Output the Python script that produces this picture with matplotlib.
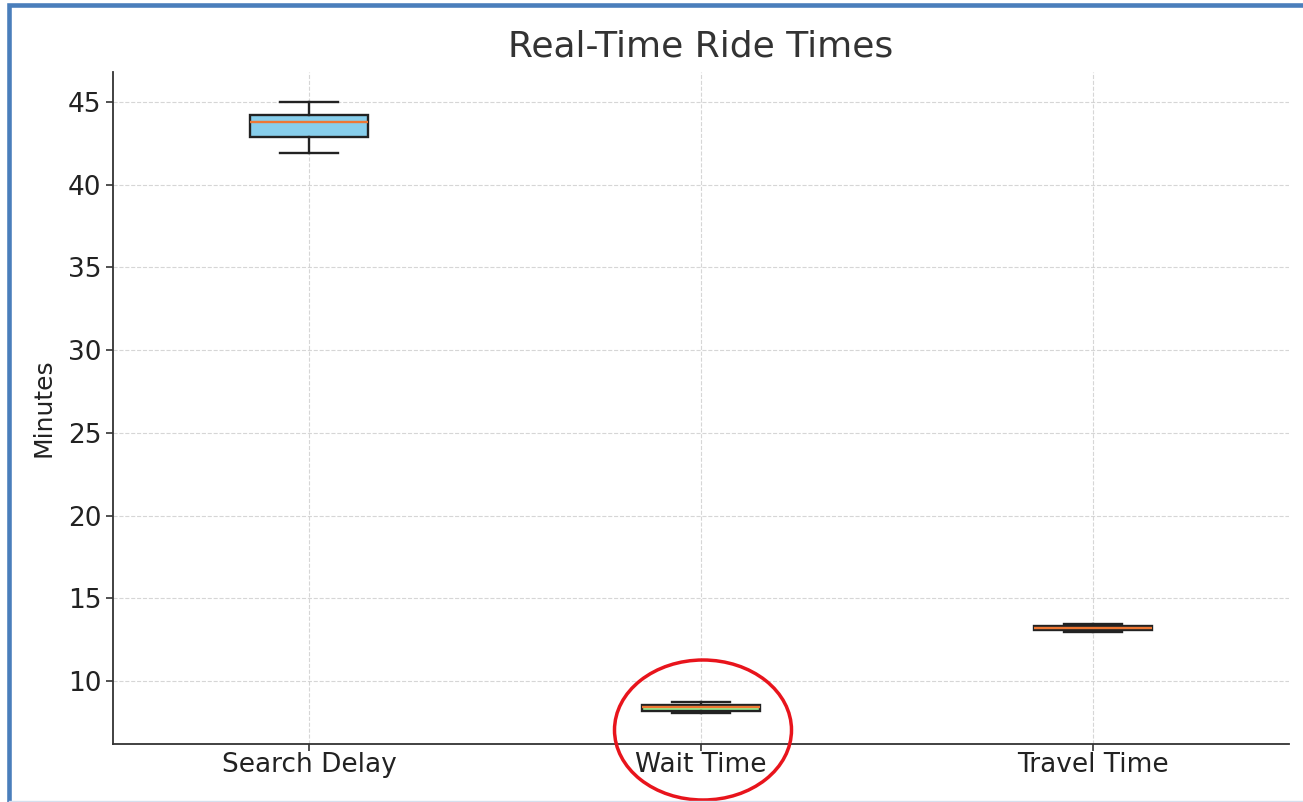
import matplotlib.pyplot as plt
from matplotlib.patches import Ellipse, Rectangle

# box statistics (minutes)
labels = ['Search Delay', 'Wait Time', 'Travel Time']
whis_low = [41.9, 8.05, 12.97]
q1 = [42.9, 8.2, 13.08]
median = [43.8, 8.43, 13.2]
q3 = [44.2, 8.55, 13.32]
whis_high = [45.0, 8.76, 13.43]
box_colors = ['skyblue', 'lightgreen', 'lightcoral']

stats = []
for i in range(len(labels)):
    stats.append({'label': labels[i], 'whislo': whis_low[i], 'q1': q1[i],
                  'med': median[i], 'q3': q3[i], 'whishi': whis_high[i],
                  'fliers': []})

W, H = 1303, 802
fig = plt.figure(figsize=(W / 100, H / 100), dpi=100)
ax = fig.add_axes([113 / W, (H - 744) / H, (1289 - 113) / W, (744 - 72) / H])

bp = ax.bxp(stats, widths=0.3, patch_artist=True,
            boxprops=dict(linewidth=1.7, edgecolor='#222222'),
            whiskerprops=dict(linewidth=1.7, color='#222222'),
            capprops=dict(linewidth=1.7, color='#222222'),
            medianprops=dict(linewidth=1.7, color='#ee7733'))
for patch, c in zip(bp['boxes'], box_colors):
    patch.set_facecolor(c)

ax.set_xlim(0.5, 3.5)
ax.set_ylim(6.2, 46.8)
ax.set_yticks([10, 15, 20, 25, 30, 35, 40, 45])
ax.grid(True, linestyle='--', color='#cccccc', linewidth=0.8, alpha=0.8)
ax.set_axisbelow(True)
for s in ['top', 'right']:
    ax.spines[s].set_visible(False)
for s in ['left', 'bottom']:
    ax.spines[s].set_color('#333333')
    ax.spines[s].set_linewidth(1.3)
ax.tick_params(labelsize=19, colors='#333333', length=5, width=1.2)
ax.tick_params(labelcolor='#222222')
ax.tick_params(axis='x', pad=0.5)
ax.set_ylabel('Minutes', fontsize=18, color='#222222', labelpad=9)
ax.set_title('Real-Time Ride Times', fontsize=26, color='#333333', pad=11)

# red highlight ellipse around the Wait Time box
fig.add_artist(Ellipse((703 / W, (H - 730) / H), 177 / W, 140 / H,
                       transform=fig.transFigure, fill=False,
                       edgecolor='#e8141c', linewidth=2.5))

# screenshot frame
fig.add_artist(Rectangle((9 / W, -0.1), 1.2, ((H - 5) / H) + 0.1,
                         transform=fig.transFigure, fill=False,
                         edgecolor='#4a7ebb', linewidth=3.3))
fig.add_artist(plt.Line2D([9 / W, 1], [1.5 / H, 1.5 / H],
                          transform=fig.transFigure, color='#d5dfee',
                          linewidth=1))

fig.savefig('out.png', dpi=100)
